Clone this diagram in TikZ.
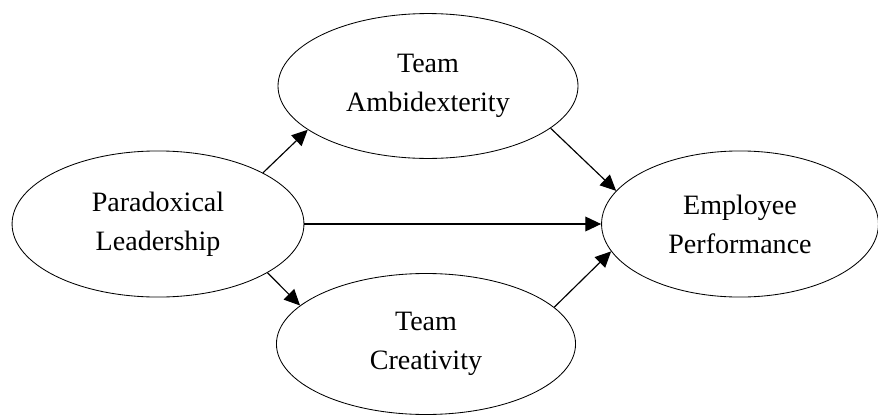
\documentclass[tikz,border=0pt]{standalone}
\usepackage{fontspec}
\setmainfont{Liberation Serif}
\usepackage{xcolor}
\usepackage{tikz}
\usetikzlibrary{shapes.geometric,arrows.meta}
\definecolor{ink}{HTML}{000000}
\tikzset{
  var/.style={ellipse, draw=ink, line width=0.8pt, inner sep=0pt, align=center,
    text=ink, font=\fontsize{26.6}{37}\selectfont},
  path/.style={line width=1.1pt, draw=ink, -{Triangle[length=15pt,width=14pt]}},
}

\begin{document}
\begin{tikzpicture}
  \useasboundingbox (0,0) rectangle (29.267,13.867);

  \node[var, minimum width=9.73cm, minimum height=4.87cm] (PL) at (5.267,6.4)  {Paradoxical\\Leadership};   % predictor
  \node[var, minimum width=10cm,   minimum height=4.83cm] (TA) at (14.267,11.0) {Team\\Ambidexterity};     % mediator 1
  \node[var, minimum width=9.97cm, minimum height=4.7cm]  (TC) at (14.2,2.4)    {Team\\Creativity};        % mediator 2
  \node[var, minimum width=9.23cm, minimum height=4.87cm] (EP) at (24.667,6.4) {Employee\\Performance};    % outcome

  \draw[path] (PL.26)   -- (TA.200);
  \draw[path] (PL.-24)  -- (TC.163);
  \draw[path] (PL.east) -- (EP.west);
  \draw[path] (TA.-19)  -- (EP.165);
  \draw[path] (TC.16)   -- (EP.192);
\end{tikzpicture}
\end{document}
